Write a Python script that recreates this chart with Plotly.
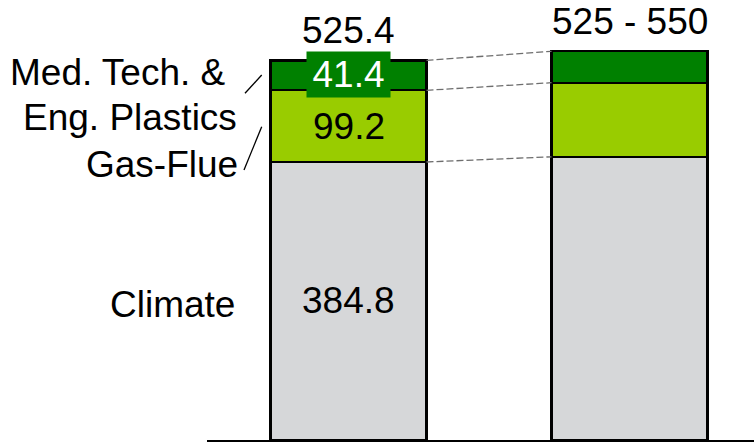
import plotly.graph_objects as go

# ---- data ----
categories = ["Current", "Outlook"]
segments = ["Climate", "Gas-Flue", "Med. Tech. & Eng. Plastics"]
current_values = [384.8, 99.2, 41.4]
outlook_values = [392.0, 102.5, 43.5]
total_labels = ["525.4", "525 - 550"]
colors = ["#D6D7D9", "#99CC00", "#008000"]

W, H = 754, 445
PLOT_H = 440
FONT = "Liberation Sans, Arial, sans-serif"
FS = 37
BAR_W = 0.555


def px(x):
    return x / W


def py(y):
    return (PLOT_H - y) / PLOT_H


fig = go.Figure()
for i, seg in enumerate(segments):
    fig.add_trace(go.Bar(
        x=categories,
        y=[current_values[i], outlook_values[i]],
        name=seg,
        width=BAR_W,
        marker=dict(color=colors[i], line=dict(color="black", width=2.2)),
        hoverinfo="skip",
    ))

# value labels on first bar
cum = 0
for i, v in enumerate(current_values):
    mid = cum + v / 2
    cum += v
    if i == 2:
        fig.add_annotation(x=categories[0], y=mid, xref="x", yref="y",
                           text=f"{v:.1f}", showarrow=False,
                           font=dict(family=FONT, size=FS, color="white"),
                           bgcolor=colors[2], width=83, height=45, borderpad=0,
                           yshift=1)
    else:
        fig.add_annotation(x=categories[0], y=mid, xref="x", yref="y",
                           text=f"{v:.1f}", showarrow=False,
                           font=dict(family=FONT, size=FS, color="black"))

# totals
for cat, vals, lab in zip(categories, [current_values, outlook_values], total_labels):
    fig.add_annotation(x=cat, y=sum(vals), xref="x", yref="y", text=lab,
                       showarrow=False, yanchor="bottom", yshift=7,
                       font=dict(family=FONT, size=FS, color="black"))

# dashed connectors between bars
c1 = 0
c2 = 0
for a, b in zip(current_values, outlook_values):
    c1 += a
    c2 += b
    fig.add_shape(type="line", xref="x", yref="y",
                  x0=0 + BAR_W / 2, x1=1 - BAR_W / 2, y0=c1, y1=c2,
                  line=dict(color="#6E6E6E", width=1.3, dash="7px,3px"))

# side labels
side = [("Med. Tech. &", 228, 72.5), ("Eng. Plastics", 239, 117.5),
        ("Gas-Flue", 239.5, 164.5), ("Climate", 237, 304.5)]
for txt, xr, yc in side:
    fig.add_annotation(x=px(xr), y=py(yc), xref="paper", yref="paper",
                       text=txt, showarrow=False, xanchor="right", yanchor="middle",
                       font=dict(family=FONT, size=FS, color="black"))

# leader lines
for (x0, y0, x1, y1) in [(245, 93.3, 261.7, 75), (244, 170, 261.7, 126.7)]:
    fig.add_shape(type="line", xref="paper", yref="paper",
                  x0=px(x0), y0=py(y0), x1=px(x1), y1=py(y1),
                  line=dict(color="black", width=1.3))

fig.update_layout(
    width=W, height=H,
    barmode="stack",
    showlegend=False,
    plot_bgcolor="white", paper_bgcolor="white",
    margin=dict(l=0, r=0, t=0, b=H - PLOT_H),
    xaxis=dict(domain=[207 / W, 1], range=[-0.5036, 1.443], showticklabels=False,
               showline=True, linecolor="black", linewidth=1.5, ticks="",
               showgrid=False, zeroline=False, fixedrange=True),
    yaxis=dict(range=[0, PLOT_H / 0.7225], visible=False, showgrid=False,
               zeroline=False, fixedrange=True),
)

fig.write_html("out.html", config={"displayModeBar": False},
               post_script="document.body.style.margin='0';document.body.style.overflow='hidden';")
